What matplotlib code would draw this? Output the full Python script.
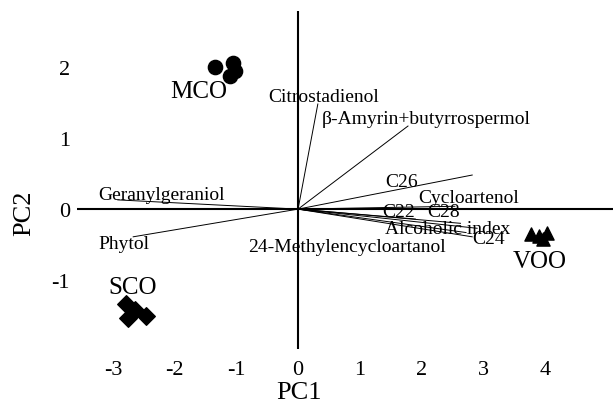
import matplotlib
matplotlib.use("Agg")
import matplotlib.pyplot as plt

# Scores of the oil samples (PC1, PC2)
mco_x = [-1.34, -1.05, -1.02, -1.10]
mco_y = [2.00, 2.06, 1.94, 1.87]
sco_x = [-2.79, -2.64, -2.46, -2.75]
sco_y = [-1.33, -1.42, -1.50, -1.54]
voo_x = [3.77, 3.90, 4.03, 3.97]
voo_y = [-0.35, -0.38, -0.33, -0.42]

# Loadings of the variables
variables = ["Citrostadienol", "β-Amyrin+butyrrospermol", "C26", "Cycloartenol",
             "C22", "C28", "Alcoholic index", "C24", "24-Methylencycloartanol",
             "Geranylgeraniol", "Phytol"]
load_x = [0.32, 1.78, 2.82, 2.54, 1.90, 2.63, 2.90, 2.82, 2.72, -2.92, -2.67]
load_y = [1.48, 1.17, 0.48, 0.04, -0.14, -0.20, -0.27, -0.39, -0.33, 0.13, -0.39]

# where each variable name is written (left edge, centre)
label_x = [-0.49, 0.39, 1.41, 1.94, 1.36, 2.09, 1.41, 2.82, -0.81, -3.24, -3.24]
label_y = [1.59, 1.27, 0.39, 0.17, -0.04, -0.04, -0.27, -0.42, -0.52, 0.21, -0.49]

xticks = [-3, -2, -1, 0, 1, 2, 3, 4]
yticks = [-1, 0, 1, 2]

plt.rcParams["font.family"] = ["Liberation Serif", "DejaVu Serif"]
plt.rcParams["axes.unicode_minus"] = False

fig = plt.figure(figsize=(6.13, 4.06), dpi=100)
ax = fig.add_axes([77 / 613, 1 - 350 / 406, (613 - 77) / 613, (350 - 12) / 406])
ax.set_xlim(-3.58, 5.10)
ax.set_ylim(-1.97, 2.79)

for s in ax.spines.values():
    s.set_visible(False)
ax.axhline(0, color="black", lw=1.5)
ax.axvline(0, color="black", lw=1.5)

# loading vectors
for x, y in zip(load_x, load_y):
    ax.plot([0, x], [0, y], color="black", lw=0.7)
for name, x, y in zip(variables, label_x, label_y):
    ax.text(x, y, name, fontsize=14, ha="left", va="center")

# sample scores
ax.scatter(mco_x, mco_y, marker="o", s=105, color="black", zorder=3)
ax.scatter(sco_x, sco_y, marker="D", s=80, color="black", zorder=3)
ax.scatter(voo_x, voo_y, marker="^", s=90, color="black", zorder=3)
ax.text(-1.15, 1.66, "MCO", fontsize=18, ha="right", va="center")
ax.text(-3.08, -1.10, "SCO", fontsize=18, ha="left", va="center")
ax.text(3.48, -0.73, "VOO", fontsize=18, ha="left", va="center")

ax.set_xticks(xticks)
ax.set_yticks(yticks)
ax.tick_params(length=0, labelsize=16)
ax.tick_params(axis="x", pad=8)
ax.tick_params(axis="y", pad=5)
ax.set_xlabel("PC1", fontsize=19)
ax.set_ylabel("PC2", fontsize=19)
ax.xaxis.set_label_coords(222 / 536, -32 / 338)
ax.yaxis.set_label_coords(-42 / 536, 137 / 338)

fig.savefig("out.png", dpi=100)
